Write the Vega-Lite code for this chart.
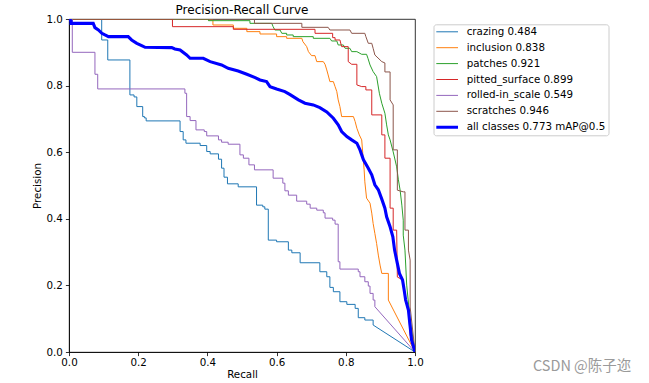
{
"$schema": "https://vega.github.io/schema/vega-lite/v6.json",
"width": 346, "height": 333,
"autosize": {"type": "none"},
"padding": {"left": 69, "top": 19, "right": 234, "bottom": 31},
"background": "white",
"title": {"text": "Precision-Recall Curve", "fontSize": 12, "font": "DejaVu Sans", "fontWeight": "normal", "color": "black", "offset": -3, "anchor": "middle"},
"config": {
 "view": {"stroke": "black", "strokeWidth": 0.8},
 "font": "DejaVu Sans",
 "axis": {"domainColor": "black", "domainWidth": 0.8, "tickColor": "black", "tickWidth": 0.8, "tickSize": 3.6, "labelFontSize": 10.3, "labelColor": "black", "labelFont": "DejaVu Sans", "titleFont": "DejaVu Sans", "titleFontSize": 10.3, "titleFontWeight": "normal", "titleColor": "black", "grid": false, "labelFlush": false, "labelOverlap": false}
},
"datasets": {"curves": [
{"s":"crazing 0.484","r":0,"p":1},{"s":"crazing 0.484","r":0.0945,"p":1},{"s":"crazing 0.484","r":0.0945,"p":0.937},{"s":"crazing 0.484","r":0.112,"p":0.937},{"s":"crazing 0.484","r":0.112,"p":0.877},{"s":"crazing 0.484","r":0.176,"p":0.877},{"s":"crazing 0.484","r":0.176,"p":0.772},{"s":"crazing 0.484","r":0.188,"p":0.772},{"s":"crazing 0.484","r":0.188,"p":0.766},{"s":"crazing 0.484","r":0.196,"p":0.766},{"s":"crazing 0.484","r":0.196,"p":0.737},{"s":"crazing 0.484","r":0.213,"p":0.737},{"s":"crazing 0.484","r":0.213,"p":0.707},{"s":"crazing 0.484","r":0.218,"p":0.707},{"s":"crazing 0.484","r":0.218,"p":0.703},{"s":"crazing 0.484","r":0.223,"p":0.703},{"s":"crazing 0.484","r":0.223,"p":0.694},{"s":"crazing 0.484","r":0.321,"p":0.694},{"s":"crazing 0.484","r":0.321,"p":0.662},{"s":"crazing 0.484","r":0.330,"p":0.662},{"s":"crazing 0.484","r":0.330,"p":0.637},{"s":"crazing 0.484","r":0.338,"p":0.637},{"s":"crazing 0.484","r":0.338,"p":0.627},{"s":"crazing 0.484","r":0.379,"p":0.627},{"s":"crazing 0.484","r":0.379,"p":0.620},{"s":"crazing 0.484","r":0.398,"p":0.620},{"s":"crazing 0.484","r":0.398,"p":0.602},{"s":"crazing 0.484","r":0.408,"p":0.602},{"s":"crazing 0.484","r":0.408,"p":0.595},{"s":"crazing 0.484","r":0.432,"p":0.595},{"s":"crazing 0.484","r":0.432,"p":0.579},{"s":"crazing 0.484","r":0.441,"p":0.579},{"s":"crazing 0.484","r":0.441,"p":0.552},{"s":"crazing 0.484","r":0.448,"p":0.552},{"s":"crazing 0.484","r":0.448,"p":0.525},{"s":"crazing 0.484","r":0.458,"p":0.525},{"s":"crazing 0.484","r":0.458,"p":0.505},{"s":"crazing 0.484","r":0.489,"p":0.505},{"s":"crazing 0.484","r":0.489,"p":0.496},{"s":"crazing 0.484","r":0.542,"p":0.496},{"s":"crazing 0.484","r":0.542,"p":0.441},{"s":"crazing 0.484","r":0.560,"p":0.441},{"s":"crazing 0.484","r":0.560,"p":0.436},{"s":"crazing 0.484","r":0.566,"p":0.436},{"s":"crazing 0.484","r":0.566,"p":0.429},{"s":"crazing 0.484","r":0.576,"p":0.429},{"s":"crazing 0.484","r":0.576,"p":0.336},{"s":"crazing 0.484","r":0.600,"p":0.336},{"s":"crazing 0.484","r":0.600,"p":0.331},{"s":"crazing 0.484","r":0.634,"p":0.331},{"s":"crazing 0.484","r":0.634,"p":0.306},{"s":"crazing 0.484","r":0.644,"p":0.306},{"s":"crazing 0.484","r":0.644,"p":0.298},{"s":"crazing 0.484","r":0.668,"p":0.298},{"s":"crazing 0.484","r":0.668,"p":0.268},{"s":"crazing 0.484","r":0.725,"p":0.268},{"s":"crazing 0.484","r":0.725,"p":0.241},{"s":"crazing 0.484","r":0.745,"p":0.241},{"s":"crazing 0.484","r":0.745,"p":0.226},{"s":"crazing 0.484","r":0.754,"p":0.226},{"s":"crazing 0.484","r":0.754,"p":0.194},{"s":"crazing 0.484","r":0.764,"p":0.194},{"s":"crazing 0.484","r":0.764,"p":0.181},{"s":"crazing 0.484","r":0.783,"p":0.181},{"s":"crazing 0.484","r":0.783,"p":0.151},{"s":"crazing 0.484","r":0.803,"p":0.151},{"s":"crazing 0.484","r":0.803,"p":0.143},{"s":"crazing 0.484","r":0.827,"p":0.143},{"s":"crazing 0.484","r":0.827,"p":0.131},{"s":"crazing 0.484","r":0.836,"p":0.131},{"s":"crazing 0.484","r":0.836,"p":0.103},{"s":"crazing 0.484","r":0.855,"p":0.103},{"s":"crazing 0.484","r":0.855,"p":0.096},{"s":"crazing 0.484","r":0.879,"p":0.096},{"s":"crazing 0.484","r":0.879,"p":0.081},{"s":"crazing 0.484","r":1,"p":0},
{"s":"inclusion 0.838","r":0,"p":1},{"s":"inclusion 0.838","r":0.402,"p":1},{"s":"inclusion 0.838","r":0.402,"p":0.997},{"s":"inclusion 0.838","r":0.416,"p":0.997},{"s":"inclusion 0.838","r":0.416,"p":0.982},{"s":"inclusion 0.838","r":0.475,"p":0.982},{"s":"inclusion 0.838","r":0.475,"p":0.972},{"s":"inclusion 0.838","r":0.514,"p":0.972},{"s":"inclusion 0.838","r":0.514,"p":0.962},{"s":"inclusion 0.838","r":0.552,"p":0.962},{"s":"inclusion 0.838","r":0.552,"p":0.955},{"s":"inclusion 0.838","r":0.600,"p":0.955},{"s":"inclusion 0.838","r":0.600,"p":0.947},{"s":"inclusion 0.838","r":0.629,"p":0.947},{"s":"inclusion 0.838","r":0.629,"p":0.942},{"s":"inclusion 0.838","r":0.673,"p":0.942},{"s":"inclusion 0.838","r":0.676,"p":0.932},{"s":"inclusion 0.838","r":0.687,"p":0.917},{"s":"inclusion 0.838","r":0.692,"p":0.902},{"s":"inclusion 0.838","r":0.701,"p":0.890},{"s":"inclusion 0.838","r":0.711,"p":0.890},{"s":"inclusion 0.838","r":0.716,"p":0.872},{"s":"inclusion 0.838","r":0.735,"p":0.872},{"s":"inclusion 0.838","r":0.740,"p":0.864},{"s":"inclusion 0.838","r":0.745,"p":0.847},{"s":"inclusion 0.838","r":0.749,"p":0.832},{"s":"inclusion 0.838","r":0.754,"p":0.812},{"s":"inclusion 0.838","r":0.764,"p":0.812},{"s":"inclusion 0.838","r":0.769,"p":0.797},{"s":"inclusion 0.838","r":0.774,"p":0.782},{"s":"inclusion 0.838","r":0.778,"p":0.757},{"s":"inclusion 0.838","r":0.783,"p":0.737},{"s":"inclusion 0.838","r":0.788,"p":0.707},{"s":"inclusion 0.838","r":0.822,"p":0.707},{"s":"inclusion 0.838","r":0.827,"p":0.692},{"s":"inclusion 0.838","r":0.832,"p":0.672},{"s":"inclusion 0.838","r":0.839,"p":0.652},{"s":"inclusion 0.838","r":0.846,"p":0.637},{"s":"inclusion 0.838","r":0.849,"p":0.597},{"s":"inclusion 0.838","r":0.853,"p":0.547},{"s":"inclusion 0.838","r":0.855,"p":0.511},{"s":"inclusion 0.838","r":0.860,"p":0.462},{"s":"inclusion 0.838","r":0.870,"p":0.447},{"s":"inclusion 0.838","r":0.875,"p":0.417},{"s":"inclusion 0.838","r":0.879,"p":0.386},{"s":"inclusion 0.838","r":0.884,"p":0.356},{"s":"inclusion 0.838","r":0.889,"p":0.326},{"s":"inclusion 0.838","r":0.894,"p":0.291},{"s":"inclusion 0.838","r":0.899,"p":0.261},{"s":"inclusion 0.838","r":0.904,"p":0.236},{"s":"inclusion 0.838","r":0.923,"p":0.236},{"s":"inclusion 0.838","r":0.923,"p":0.156},{"s":"inclusion 0.838","r":1,"p":0},
{"s":"patches 0.921","r":0,"p":1},{"s":"patches 0.921","r":0.403,"p":1},{"s":"patches 0.921","r":0.403,"p":0.995},{"s":"patches 0.921","r":0.523,"p":0.995},{"s":"patches 0.921","r":0.523,"p":0.987},{"s":"patches 0.921","r":0.586,"p":0.987},{"s":"patches 0.921","r":0.590,"p":0.977},{"s":"patches 0.921","r":0.595,"p":0.967},{"s":"patches 0.921","r":0.610,"p":0.967},{"s":"patches 0.921","r":0.615,"p":0.957},{"s":"patches 0.921","r":0.629,"p":0.957},{"s":"patches 0.921","r":0.629,"p":0.952},{"s":"patches 0.921","r":0.648,"p":0.952},{"s":"patches 0.921","r":0.648,"p":0.947},{"s":"patches 0.921","r":0.706,"p":0.947},{"s":"patches 0.921","r":0.706,"p":0.942},{"s":"patches 0.921","r":0.754,"p":0.942},{"s":"patches 0.921","r":0.759,"p":0.934},{"s":"patches 0.921","r":0.774,"p":0.934},{"s":"patches 0.921","r":0.778,"p":0.922},{"s":"patches 0.921","r":0.793,"p":0.922},{"s":"patches 0.921","r":0.798,"p":0.912},{"s":"patches 0.921","r":0.812,"p":0.912},{"s":"patches 0.921","r":0.817,"p":0.902},{"s":"patches 0.921","r":0.832,"p":0.902},{"s":"patches 0.921","r":0.846,"p":0.894},{"s":"patches 0.921","r":0.860,"p":0.894},{"s":"patches 0.921","r":0.864,"p":0.882},{"s":"patches 0.921","r":0.870,"p":0.862},{"s":"patches 0.921","r":0.879,"p":0.842},{"s":"patches 0.921","r":0.889,"p":0.827},{"s":"patches 0.921","r":0.897,"p":0.777},{"s":"patches 0.921","r":0.904,"p":0.747},{"s":"patches 0.921","r":0.913,"p":0.717},{"s":"patches 0.921","r":0.918,"p":0.682},{"s":"patches 0.921","r":0.923,"p":0.652},{"s":"patches 0.921","r":0.928,"p":0.637},{"s":"patches 0.921","r":0.937,"p":0.601},{"s":"patches 0.921","r":0.947,"p":0.556},{"s":"patches 0.921","r":0.952,"p":0.517},{"s":"patches 0.921","r":0.957,"p":0.486},{"s":"patches 0.921","r":0.962,"p":0.441},{"s":"patches 0.921","r":0.966,"p":0.396},{"s":"patches 0.921","r":0.966,"p":0.351},{"s":"patches 0.921","r":0.971,"p":0.306},{"s":"patches 0.921","r":0.976,"p":0.201},{"s":"patches 0.921","r":0.986,"p":0.096},{"s":"patches 0.921","r":1,"p":0},
{"s":"pitted_surface 0.899","r":0,"p":1},{"s":"pitted_surface 0.899","r":0.299,"p":1},{"s":"pitted_surface 0.899","r":0.299,"p":0.977},{"s":"pitted_surface 0.899","r":0.475,"p":0.977},{"s":"pitted_surface 0.899","r":0.475,"p":0.969},{"s":"pitted_surface 0.899","r":0.711,"p":0.969},{"s":"pitted_surface 0.899","r":0.711,"p":0.957},{"s":"pitted_surface 0.899","r":0.762,"p":0.957},{"s":"pitted_surface 0.899","r":0.762,"p":0.944},{"s":"pitted_surface 0.899","r":0.769,"p":0.944},{"s":"pitted_surface 0.899","r":0.769,"p":0.937},{"s":"pitted_surface 0.899","r":0.783,"p":0.937},{"s":"pitted_surface 0.899","r":0.788,"p":0.917},{"s":"pitted_surface 0.899","r":0.807,"p":0.917},{"s":"pitted_surface 0.899","r":0.807,"p":0.872},{"s":"pitted_surface 0.899","r":0.817,"p":0.864},{"s":"pitted_surface 0.899","r":0.832,"p":0.864},{"s":"pitted_surface 0.899","r":0.832,"p":0.802},{"s":"pitted_surface 0.899","r":0.846,"p":0.797},{"s":"pitted_surface 0.899","r":0.858,"p":0.797},{"s":"pitted_surface 0.899","r":0.858,"p":0.787},{"s":"pitted_surface 0.899","r":0.875,"p":0.787},{"s":"pitted_surface 0.899","r":0.875,"p":0.712},{"s":"pitted_surface 0.899","r":0.904,"p":0.712},{"s":"pitted_surface 0.899","r":0.904,"p":0.652},{"s":"pitted_surface 0.899","r":0.913,"p":0.652},{"s":"pitted_surface 0.899","r":0.913,"p":0.582},{"s":"pitted_surface 0.899","r":0.928,"p":0.582},{"s":"pitted_surface 0.899","r":0.928,"p":0.432},{"s":"pitted_surface 0.899","r":0.937,"p":0.432},{"s":"pitted_surface 0.899","r":0.937,"p":0.366},{"s":"pitted_surface 0.899","r":0.947,"p":0.366},{"s":"pitted_surface 0.899","r":0.949,"p":0.225},{"s":"pitted_surface 0.899","r":0.966,"p":0.216},{"s":"pitted_surface 0.899","r":0.971,"p":0.156},{"s":"pitted_surface 0.899","r":0.981,"p":0.126},{"s":"pitted_surface 0.899","r":0.986,"p":0.051},{"s":"pitted_surface 0.899","r":1,"p":0},
{"s":"rolled-in_scale 0.549","r":0,"p":1},{"s":"rolled-in_scale 0.549","r":0.0095,"p":1},{"s":"rolled-in_scale 0.549","r":0.0095,"p":0.900},{"s":"rolled-in_scale 0.549","r":0.075,"p":0.900},{"s":"rolled-in_scale 0.549","r":0.075,"p":0.834},{"s":"rolled-in_scale 0.549","r":0.083,"p":0.834},{"s":"rolled-in_scale 0.549","r":0.083,"p":0.790},{"s":"rolled-in_scale 0.549","r":0.335,"p":0.790},{"s":"rolled-in_scale 0.549","r":0.335,"p":0.777},{"s":"rolled-in_scale 0.549","r":0.340,"p":0.777},{"s":"rolled-in_scale 0.549","r":0.340,"p":0.707},{"s":"rolled-in_scale 0.549","r":0.350,"p":0.707},{"s":"rolled-in_scale 0.549","r":0.350,"p":0.695},{"s":"rolled-in_scale 0.549","r":0.367,"p":0.695},{"s":"rolled-in_scale 0.549","r":0.367,"p":0.667},{"s":"rolled-in_scale 0.549","r":0.391,"p":0.667},{"s":"rolled-in_scale 0.549","r":0.391,"p":0.662},{"s":"rolled-in_scale 0.549","r":0.398,"p":0.662},{"s":"rolled-in_scale 0.549","r":0.398,"p":0.649},{"s":"rolled-in_scale 0.549","r":0.432,"p":0.649},{"s":"rolled-in_scale 0.549","r":0.432,"p":0.637},{"s":"rolled-in_scale 0.549","r":0.441,"p":0.637},{"s":"rolled-in_scale 0.549","r":0.441,"p":0.630},{"s":"rolled-in_scale 0.549","r":0.460,"p":0.630},{"s":"rolled-in_scale 0.549","r":0.460,"p":0.624},{"s":"rolled-in_scale 0.549","r":0.494,"p":0.624},{"s":"rolled-in_scale 0.549","r":0.494,"p":0.592},{"s":"rolled-in_scale 0.549","r":0.504,"p":0.592},{"s":"rolled-in_scale 0.549","r":0.504,"p":0.582},{"s":"rolled-in_scale 0.549","r":0.520,"p":0.582},{"s":"rolled-in_scale 0.549","r":0.520,"p":0.562},{"s":"rolled-in_scale 0.549","r":0.536,"p":0.562},{"s":"rolled-in_scale 0.549","r":0.536,"p":0.547},{"s":"rolled-in_scale 0.549","r":0.590,"p":0.547},{"s":"rolled-in_scale 0.549","r":0.590,"p":0.522},{"s":"rolled-in_scale 0.549","r":0.618,"p":0.522},{"s":"rolled-in_scale 0.549","r":0.618,"p":0.507},{"s":"rolled-in_scale 0.549","r":0.624,"p":0.507},{"s":"rolled-in_scale 0.549","r":0.624,"p":0.484},{"s":"rolled-in_scale 0.549","r":0.634,"p":0.484},{"s":"rolled-in_scale 0.549","r":0.634,"p":0.471},{"s":"rolled-in_scale 0.549","r":0.658,"p":0.471},{"s":"rolled-in_scale 0.549","r":0.658,"p":0.453},{"s":"rolled-in_scale 0.549","r":0.687,"p":0.453},{"s":"rolled-in_scale 0.549","r":0.687,"p":0.444},{"s":"rolled-in_scale 0.549","r":0.697,"p":0.444},{"s":"rolled-in_scale 0.549","r":0.697,"p":0.432},{"s":"rolled-in_scale 0.549","r":0.716,"p":0.432},{"s":"rolled-in_scale 0.549","r":0.716,"p":0.426},{"s":"rolled-in_scale 0.549","r":0.735,"p":0.426},{"s":"rolled-in_scale 0.549","r":0.735,"p":0.418},{"s":"rolled-in_scale 0.549","r":0.740,"p":0.418},{"s":"rolled-in_scale 0.549","r":0.740,"p":0.402},{"s":"rolled-in_scale 0.549","r":0.762,"p":0.402},{"s":"rolled-in_scale 0.549","r":0.762,"p":0.396},{"s":"rolled-in_scale 0.549","r":0.769,"p":0.396},{"s":"rolled-in_scale 0.549","r":0.769,"p":0.384},{"s":"rolled-in_scale 0.549","r":0.778,"p":0.384},{"s":"rolled-in_scale 0.549","r":0.778,"p":0.271},{"s":"rolled-in_scale 0.549","r":0.783,"p":0.271},{"s":"rolled-in_scale 0.549","r":0.783,"p":0.249},{"s":"rolled-in_scale 0.549","r":0.836,"p":0.249},{"s":"rolled-in_scale 0.549","r":0.836,"p":0.241},{"s":"rolled-in_scale 0.549","r":0.841,"p":0.241},{"s":"rolled-in_scale 0.549","r":0.841,"p":0.226},{"s":"rolled-in_scale 0.549","r":0.855,"p":0.226},{"s":"rolled-in_scale 0.549","r":0.855,"p":0.211},{"s":"rolled-in_scale 0.549","r":0.865,"p":0.211},{"s":"rolled-in_scale 0.549","r":0.865,"p":0.198},{"s":"rolled-in_scale 0.549","r":0.870,"p":0.198},{"s":"rolled-in_scale 0.549","r":0.870,"p":0.176},{"s":"rolled-in_scale 0.549","r":0.879,"p":0.176},{"s":"rolled-in_scale 0.549","r":0.879,"p":0.156},{"s":"rolled-in_scale 0.549","r":0.884,"p":0.156},{"s":"rolled-in_scale 0.549","r":0.884,"p":0.136},{"s":"rolled-in_scale 0.549","r":1,"p":0},
{"s":"scratches 0.946","r":0,"p":1},{"s":"scratches 0.946","r":0.536,"p":1},{"s":"scratches 0.946","r":0.536,"p":0.987},{"s":"scratches 0.946","r":0.673,"p":0.987},{"s":"scratches 0.946","r":0.673,"p":0.975},{"s":"scratches 0.946","r":0.749,"p":0.975},{"s":"scratches 0.946","r":0.754,"p":0.967},{"s":"scratches 0.946","r":0.812,"p":0.967},{"s":"scratches 0.946","r":0.817,"p":0.957},{"s":"scratches 0.946","r":0.855,"p":0.957},{"s":"scratches 0.946","r":0.858,"p":0.947},{"s":"scratches 0.946","r":0.865,"p":0.927},{"s":"scratches 0.946","r":0.875,"p":0.927},{"s":"scratches 0.946","r":0.879,"p":0.912},{"s":"scratches 0.946","r":0.884,"p":0.892},{"s":"scratches 0.946","r":0.904,"p":0.872},{"s":"scratches 0.946","r":0.913,"p":0.868},{"s":"scratches 0.946","r":0.913,"p":0.841},{"s":"scratches 0.946","r":0.928,"p":0.841},{"s":"scratches 0.946","r":0.928,"p":0.757},{"s":"scratches 0.946","r":0.937,"p":0.742},{"s":"scratches 0.946","r":0.937,"p":0.607},{"s":"scratches 0.946","r":0.949,"p":0.607},{"s":"scratches 0.946","r":0.949,"p":0.486},{"s":"scratches 0.946","r":0.966,"p":0.481},{"s":"scratches 0.946","r":0.971,"p":0.481},{"s":"scratches 0.946","r":0.971,"p":0.366},{"s":"scratches 0.946","r":0.981,"p":0.366},{"s":"scratches 0.946","r":0.981,"p":0.306},{"s":"scratches 0.946","r":0.986,"p":0.276},{"s":"scratches 0.946","r":0.986,"p":0.135},{"s":"scratches 0.946","r":1,"p":0},
{"s":"all classes 0.773 mAP@0.5","r":0,"p":1},{"s":"all classes 0.773 mAP@0.5","r":0.006,"p":0.994},{"s":"all classes 0.773 mAP@0.5","r":0.006,"p":0.987},{"s":"all classes 0.773 mAP@0.5","r":0.070,"p":0.987},{"s":"all classes 0.773 mAP@0.5","r":0.075,"p":0.974},{"s":"all classes 0.773 mAP@0.5","r":0.085,"p":0.967},{"s":"all classes 0.773 mAP@0.5","r":0.095,"p":0.957},{"s":"all classes 0.773 mAP@0.5","r":0.104,"p":0.952},{"s":"all classes 0.773 mAP@0.5","r":0.114,"p":0.947},{"s":"all classes 0.773 mAP@0.5","r":0.171,"p":0.947},{"s":"all classes 0.773 mAP@0.5","r":0.181,"p":0.937},{"s":"all classes 0.773 mAP@0.5","r":0.196,"p":0.927},{"s":"all classes 0.773 mAP@0.5","r":0.210,"p":0.920},{"s":"all classes 0.773 mAP@0.5","r":0.220,"p":0.915},{"s":"all classes 0.773 mAP@0.5","r":0.297,"p":0.914},{"s":"all classes 0.773 mAP@0.5","r":0.306,"p":0.910},{"s":"all classes 0.773 mAP@0.5","r":0.321,"p":0.907},{"s":"all classes 0.773 mAP@0.5","r":0.340,"p":0.892},{"s":"all classes 0.773 mAP@0.5","r":0.350,"p":0.882},{"s":"all classes 0.773 mAP@0.5","r":0.388,"p":0.882},{"s":"all classes 0.773 mAP@0.5","r":0.408,"p":0.872},{"s":"all classes 0.773 mAP@0.5","r":0.441,"p":0.862},{"s":"all classes 0.773 mAP@0.5","r":0.460,"p":0.852},{"s":"all classes 0.773 mAP@0.5","r":0.489,"p":0.844},{"s":"all classes 0.773 mAP@0.5","r":0.514,"p":0.834},{"s":"all classes 0.773 mAP@0.5","r":0.538,"p":0.824},{"s":"all classes 0.773 mAP@0.5","r":0.552,"p":0.817},{"s":"all classes 0.773 mAP@0.5","r":0.571,"p":0.812},{"s":"all classes 0.773 mAP@0.5","r":0.581,"p":0.797},{"s":"all classes 0.773 mAP@0.5","r":0.600,"p":0.790},{"s":"all classes 0.773 mAP@0.5","r":0.624,"p":0.782},{"s":"all classes 0.773 mAP@0.5","r":0.639,"p":0.773},{"s":"all classes 0.773 mAP@0.5","r":0.663,"p":0.757},{"s":"all classes 0.773 mAP@0.5","r":0.682,"p":0.747},{"s":"all classes 0.773 mAP@0.5","r":0.706,"p":0.742},{"s":"all classes 0.773 mAP@0.5","r":0.725,"p":0.734},{"s":"all classes 0.773 mAP@0.5","r":0.745,"p":0.721},{"s":"all classes 0.773 mAP@0.5","r":0.764,"p":0.702},{"s":"all classes 0.773 mAP@0.5","r":0.778,"p":0.682},{"s":"all classes 0.773 mAP@0.5","r":0.788,"p":0.662},{"s":"all classes 0.773 mAP@0.5","r":0.803,"p":0.647},{"s":"all classes 0.773 mAP@0.5","r":0.817,"p":0.637},{"s":"all classes 0.773 mAP@0.5","r":0.832,"p":0.627},{"s":"all classes 0.773 mAP@0.5","r":0.841,"p":0.607},{"s":"all classes 0.773 mAP@0.5","r":0.851,"p":0.577},{"s":"all classes 0.773 mAP@0.5","r":0.865,"p":0.552},{"s":"all classes 0.773 mAP@0.5","r":0.875,"p":0.532},{"s":"all classes 0.773 mAP@0.5","r":0.884,"p":0.502},{"s":"all classes 0.773 mAP@0.5","r":0.894,"p":0.487},{"s":"all classes 0.773 mAP@0.5","r":0.904,"p":0.459},{"s":"all classes 0.773 mAP@0.5","r":0.913,"p":0.432},{"s":"all classes 0.773 mAP@0.5","r":0.918,"p":0.406},{"s":"all classes 0.773 mAP@0.5","r":0.928,"p":0.376},{"s":"all classes 0.773 mAP@0.5","r":0.936,"p":0.346},{"s":"all classes 0.773 mAP@0.5","r":0.941,"p":0.306},{"s":"all classes 0.773 mAP@0.5","r":0.947,"p":0.276},{"s":"all classes 0.773 mAP@0.5","r":0.955,"p":0.236},{"s":"all classes 0.773 mAP@0.5","r":0.964,"p":0.216},{"s":"all classes 0.773 mAP@0.5","r":0.968,"p":0.191},{"s":"all classes 0.773 mAP@0.5","r":0.973,"p":0.156},{"s":"all classes 0.773 mAP@0.5","r":0.981,"p":0.126},{"s":"all classes 0.773 mAP@0.5","r":0.986,"p":0.076},{"s":"all classes 0.773 mAP@0.5","r":0.990,"p":0.036},{"s":"all classes 0.773 mAP@0.5","r":1,"p":0}
]},
"layer": [
 {
  "data": {"name": "curves"},
  "transform": [{"filter": "datum.s !== 'all classes 0.773 mAP@0.5'"}],
  "mark": {"type": "line", "strokeWidth": 1, "clip": true},
  "encoding": {
   "x": {"field": "r", "type": "quantitative", "scale": {"domain": [0, 1], "nice": false, "zero": false}, "axis": {"title": "Recall", "values": [0, 0.2, 0.4, 0.6, 0.8, 1], "format": ".1f", "labelPadding": 2, "titlePadding": 2}},
   "y": {"field": "p", "type": "quantitative", "scale": {"domain": [0, 1], "nice": false, "zero": false}, "axis": {"title": "Precision", "values": [0, 0.2, 0.4, 0.6, 0.8, 1], "format": ".1f", "labelPadding": 3, "titlePadding": 4}},
   "color": {"field": "s", "type": "nominal",
     "scale": {"domain": ["crazing 0.484", "inclusion 0.838", "patches 0.921", "pitted_surface 0.899", "rolled-in_scale 0.549", "scratches 0.946", "all classes 0.773 mAP@0.5"], "range": ["#1f77b4", "#ff7f0e", "#2ca02c", "#d62728", "#9467bd", "#8c564b", "#0000ff"]},
     "legend": {"orient": "none", "legendX": 364.5, "legendY": 5.3, "title": null, "symbolType": "stroke", "symbolSize": 471, "symbolStrokeWidth": 1, "symbolOffset": 6, "labelFontSize": 10.3, "labelFont": "DejaVu Sans", "labelColor": "black", "padding": 2.5, "rowPadding": 4.9, "labelOffset": 14.4, "clipHeight": 10, "strokeColor": "#cccccc", "fillColor": "white", "cornerRadius": 2.5, "labelLimit": 300,
       "encode": {"symbols": {"update": {"strokeWidth": {"signal": "datum.value === 'all classes 0.773 mAP@0.5' ? 3 : 1"}}}}}},
   "order": {"value": null}
  }
 },
 {
  "data": {"name": "curves"},
  "transform": [{"filter": "datum.s === 'all classes 0.773 mAP@0.5'"}],
  "mark": {"type": "line", "strokeWidth": 3.1, "clip": true},
  "encoding": {
   "x": {"field": "r", "type": "quantitative"},
   "y": {"field": "p", "type": "quantitative"},
   "color": {"field": "s", "type": "nominal"},
   "order": {"value": null}
  }
 },
 {
  "data": {"values": [{"label": "CSDN @陈子迩"}]},
  "mark": {"type": "text", "font": "Noto Sans CJK SC", "fontSize": 14.5, "color": "#9a9a9a", "align": "center", "baseline": "middle"},
  "encoding": {
   "text": {"field": "label", "type": "nominal"},
   "x": {"datum": 1.483},
   "y": {"datum": -0.045}
  }
 }
]
}
